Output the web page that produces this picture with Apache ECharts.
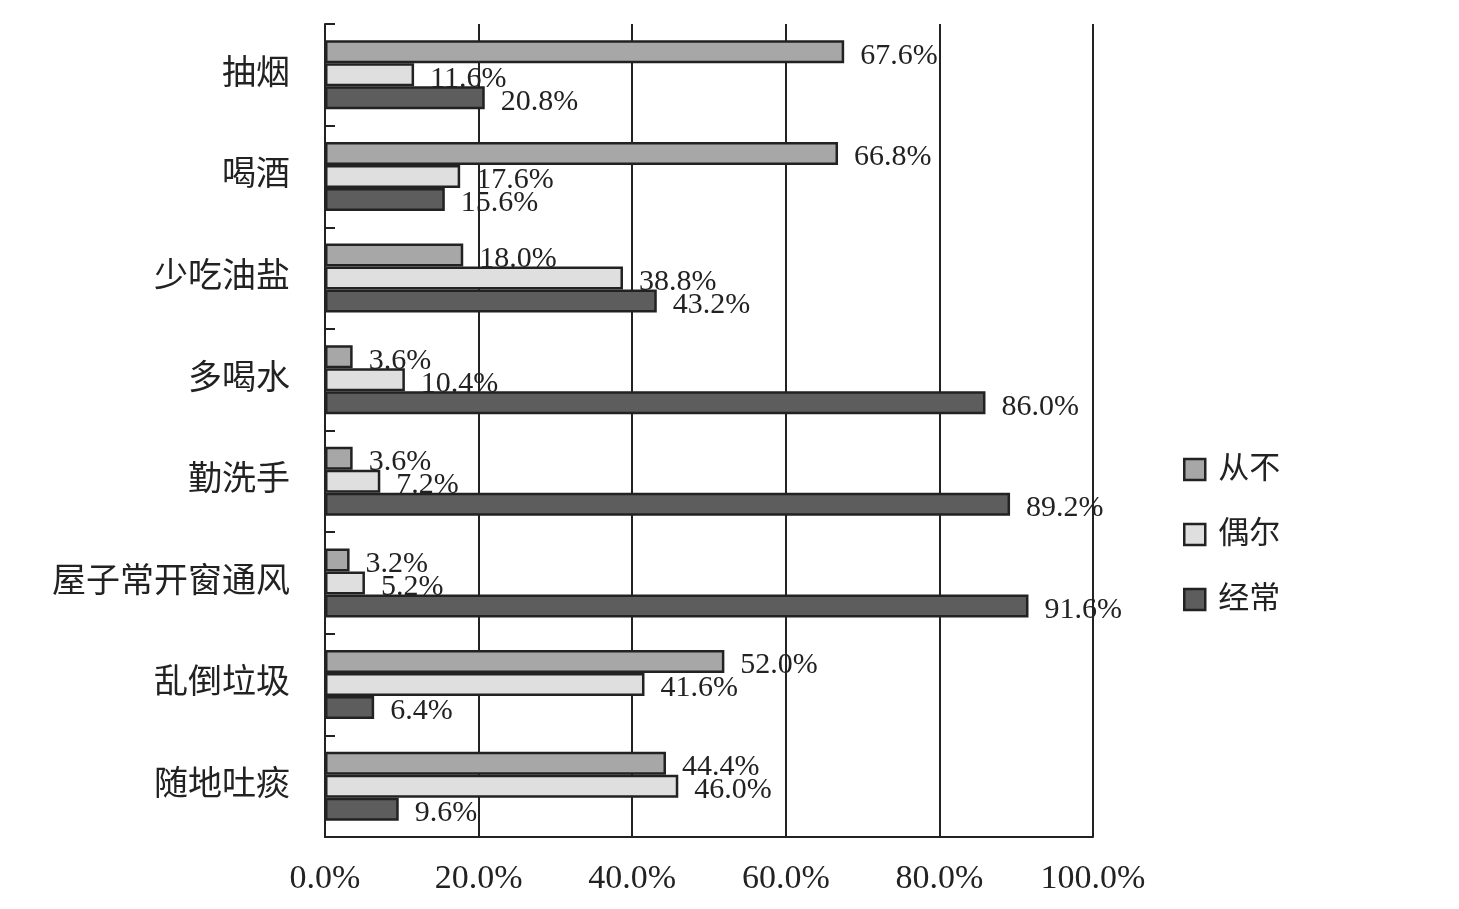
<!DOCTYPE html>
<html><head><meta charset="utf-8">
<script src="https://cdn.jsdelivr.net/npm/echarts@6/dist/echarts.min.js"></script>
<style>html,body{margin:0;padding:0;background:#fff}#c{width:1459px;height:909px}</style>
</head><body><div id="c"></div>
<script>
const categories = ['抽烟','喝酒','少吃油盐','多喝水','勤洗手','屋子常开窗通风','乱倒垃圾','随地吐痰'];
const seriesNames = ['从不','偶尔','经常'];
const never = [67.6, 66.8, 18.0, 3.6, 3.6, 3.2, 52.0, 44.4];
const sometimes = [11.6, 17.6, 38.8, 10.4, 7.2, 5.2, 41.6, 46.0];
const often = [20.8, 15.6, 43.2, 86.0, 89.2, 91.6, 6.4, 9.6];
const xTicks = [0, 20, 40, 60, 80, 100];

const colors = ['#a7a7a7', '#dfdfdf', '#5d5d5d'];
const numFont = '"Liberation Serif", "Times New Roman", serif';
const cjkFont = '"Liberation Serif", "Noto Sans CJK SC", serif';
const values = [never, sometimes, often];

const chart = echarts.init(document.getElementById('c'), null, {renderer: 'canvas'});
chart.setOption({
  animation: false,
  backgroundColor: '#fff',
  grid: {left: 325, right: 366, top: 24, bottom: 72, containLabel: false},
  legend: {
    orient: 'vertical', left: 1178, top: 449,
    itemWidth: 21, itemHeight: 21, itemGap: 34,
    textStyle: {fontFamily: cjkFont, fontSize: 31, color: '#222', padding: [0,0,0,8]},
    data: seriesNames.map((n, i) => ({name: n, icon: 'rect', itemStyle: {color: colors[i], borderColor: '#222', borderWidth: 2.5}}))
  },
  xAxis: {
    type: 'value', min: xTicks[0], max: xTicks[xTicks.length - 1], interval: 20,
    axisLine: {show: true, lineStyle: {color: '#222', width: 2}},
    axisTick: {show: false},
    splitLine: {show: true, lineStyle: {color: '#222', width: 2}},
    axisLabel: {formatter: v => v.toFixed(1) + '%', fontFamily: numFont, fontSize: 34, color: '#222', margin: 25}
  },
  yAxis: {
    type: 'category', data: categories, inverse: true,
    axisLine: {show: true, lineStyle: {color: '#222', width: 2}},
    axisTick: {show: true, inside: true, length: 10, lineStyle: {color: '#222', width: 2}},
    axisLabel: {fontFamily: cjkFont, fontSize: 34, color: '#222', margin: 35}
  },
  series: seriesNames.map((n, i) => ({
    name: n, type: 'bar', data: values[i],
    barWidth: 23, barGap: '0%',
    itemStyle: {color: colors[i], borderColor: '#222', borderWidth: 2.5},
    label: {
      show: true, position: 'right', distance: 16, offset: [0, 4],
      formatter: p => p.value.toFixed(1) + '%',
      fontFamily: numFont, fontSize: 30, color: '#222'
    }
  }))
});
</script></body></html>
